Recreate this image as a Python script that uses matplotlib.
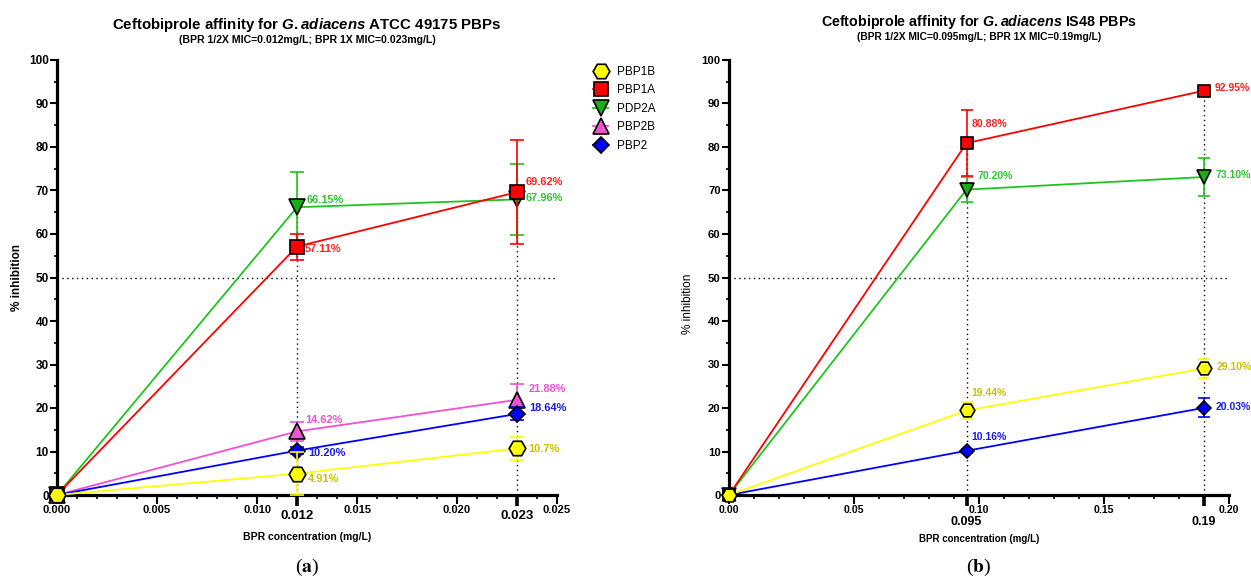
import numpy as np
import matplotlib.pyplot as plt
from matplotlib.ticker import MultipleLocator, FormatStrFormatter

plt.rcParams['font.family'] = ['Liberation Sans', 'DejaVu Sans']
plt.rcParams['mathtext.fontset'] = 'custom'
plt.rcParams['mathtext.rm'] = 'Liberation Sans:bold'
plt.rcParams['mathtext.bf'] = 'Liberation Sans:bold'
plt.rcParams['mathtext.it'] = 'Liberation Sans:bold:italic'

# ---- data ----
names = ["PBP1B", "PBP1A", "PDP2A", "PBP2B", "PBP2"]

conc_a = [0, 0.012, 0.023]
mic_a = [0.012, 0.023]
mic_a_lbl = ["0.012", "0.023"]
vals_a = {
    "PBP1B": [0, 4.91, 10.7],
    "PBP1A": [0, 57.11, 69.62],
    "PDP2A": [0, 66.15, 67.96],
    "PBP2B": [0, 14.62, 21.88],
    "PBP2": [0, 10.20, 18.64],
}
err_a = {
    "PBP1B": [0, 4.91, 2.7],
    "PBP1A": [0, 3.0, 12.0],
    "PDP2A": [0, 8.0, 8.2],
    "PBP2B": [0, 2.2, 3.6],
    "PBP2": [0, 0.8, 1.5],
}
txt_a = {
    "PBP1B": ["4.91%", "10.7%"],
    "PBP1A": ["57.11%", "69.62%"],
    "PDP2A": ["66.15%", "67.96%"],
    "PBP2B": ["14.62%", "21.88%"],
    "PBP2": ["10.20%", "18.64%"],
}

conc_b = [0, 0.095, 0.19]
mic_b = [0.095, 0.19]
mic_b_lbl = ["0.095", "0.19"]
vals_b = {
    "PBP1B": [0, 19.44, 29.10],
    "PBP1A": [0, 80.88, 92.95],
    "PDP2A": [0, 70.20, 73.10],
    "PBP2": [0, 10.16, 20.03],
}
err_b = {
    "PBP1B": [0, 2.0, 2.1],
    "PBP1A": [0, 7.6, 0.5],
    "PDP2A": [0, 2.8, 4.4],
    "PBP2": [0, 0.5, 2.2],
}
txt_b = {
    "PBP1B": ["19.44%", "29.10%"],
    "PBP1A": ["80.88%", "92.95%"],
    "PDP2A": ["70.20%", "73.10%"],
    "PBP2": ["10.16%", "20.03%"],
}

# ---- styles ----
style = {
    "PBP1B": dict(line="#ffff00", fill="#ffff00", text="#c8c400", marker="H", ms=12, z=8),
    "PBP1A": dict(line="#ff0000", fill="#ff0000", text="#ff2020", marker="s", ms=9.5, z=5),
    "PDP2A": dict(line="#1fc41f", fill="#16b016", text="#2dc62d", marker="v", ms=11, z=4),
    "PBP2B": dict(line="#f050d2", fill="#ee55cc", text="#f050d2", marker="^", ms=11, z=6),
    "PBP2": dict(line="#0000ff", fill="#0000ff", text="#1a1aee", marker="D", ms=8, z=7),
}
# label offsets in pixels (dx, dy) for the two non-zero points
off_a = {
    "PBP1B": [(11, -5), (11, -1)],
    "PBP1A": [(8, -2), (9, 10)],
    "PDP2A": [(10, 7), (9, 1)],
    "PBP2B": [(8, 11), (12, 11)],
    "PBP2": [(11, -2), (12, 6)],
}
off_b = {
    "PBP1B": [(5, 17), (13, 1)],
    "PBP1A": [(5, 19), (11, 3)],
    "PDP2A": [(11, 14), (12, 2)],
    "PBP2": [(5, 14), (12, 1)],
}

W, H = 1251, 581
fig = plt.figure(figsize=(W / 100, H / 100), dpi=100)
axA = fig.add_axes([57 / W, 86 / H, 500 / W, 435 / H])
axB = fig.add_axes([729 / W, 86 / H, 500 / W, 435 / H])


def panel(ax, conc, vals, errs, txts, offs, mic, mic_lbl, xmax, xmaj, xmin, fmt, sc, msc, mic_pad):
    ax.set_xlim(0, xmax)
    ax.set_ylim(0, 100)
    for s in ["top", "right"]:
        ax.spines[s].set_visible(False)
    for s in ["left", "bottom"]:
        ax.spines[s].set_linewidth(2.3)
    ax.xaxis.set_major_locator(MultipleLocator(xmaj))
    ax.xaxis.set_minor_locator(MultipleLocator(xmin))
    ax.xaxis.set_major_formatter(FormatStrFormatter(fmt))
    ax.yaxis.set_major_locator(MultipleLocator(10))
    ax.yaxis.set_minor_locator(MultipleLocator(5))
    ax.tick_params(axis="x", which="major", length=6.5, width=1.5, pad=1, labelsize=8 * sc)
    ax.tick_params(axis="x", which="minor", length=3.2, width=1.2)
    ax.tick_params(axis="y", which="major", length=5, width=1.5, pad=1, labelsize=8.5 * sc)
    ax.tick_params(axis="y", which="minor", length=2.5, width=1.2)
    for lb in ax.get_xticklabels() + ax.get_yticklabels():
        lb.set_fontweight("bold")

    # reference lines
    ax.axhline(50, color="black", lw=1, ls=(0, (1, 2.5)), zorder=1)
    tops = [max(v[conc.index(m)] for v in vals.values()) for m in mic]
    ax.vlines(mic, 0, tops, color="black", lw=1, ls=(0, (1, 2.5)), zorder=1)

    handles = []
    for n in names:
        if n not in vals:
            continue
        st = style[n]
        ax.errorbar(conc, vals[n], yerr=errs[n], fmt="none", ecolor=st["line"],
                    elinewidth=1.2, capsize=5 * msc, capthick=1.2, zorder=st["z"], clip_on=False)
        h, = ax.plot(conc, vals[n], color=st["line"], lw=1.3, marker=st["marker"],
                     ms=st["ms"] * msc, mfc=st["fill"], mec="black", mew=1.2,
                     zorder=st["z"] + 0.5, clip_on=False, label=n)
        handles.append(h)
        for i in range(2):
            ax.annotate(txts[n][i], (conc[i + 1], vals[n][i + 1]), xytext=offs[n][i],
                        textcoords="offset pixels", ha="left", va="center",
                        color=st["text"], fontsize=7.9 * sc, fontweight="bold", zorder=10,
                        annotation_clip=False)

    sec = ax.secondary_xaxis("bottom")
    sec.set_xticks(mic, labels=mic_lbl)
    sec.tick_params(length=8, width=2.6, pad=mic_pad, labelsize=9.5 * sc)
    sec.spines["bottom"].set_visible(False)
    for lb in sec.get_xticklabels():
        lb.set_fontweight("bold")
    return handles


hA = panel(axA, conc_a, vals_a, err_a, txt_a, off_a, mic_a, mic_a_lbl,
           0.025, 0.005, 0.001, "%.3f", 1.0, 1.0, 3)
hB = panel(axB, conc_b, vals_b, err_b, txt_b, off_b, mic_b, mic_b_lbl,
           0.20, 0.05, 0.01, "%.2f", 0.95, 0.88, 7)

axA.set_xlabel("BPR concentration (mg/L)", fontsize=7.5, fontweight="bold")
axA.xaxis.set_label_coords(0.5, -0.085)
axA.set_ylabel("% inhibition", fontsize=8.5, fontweight="bold")
axA.yaxis.set_label_coords(-0.068, 0.5)
axB.set_xlabel("BPR concentration (mg/L)", fontsize=7, fontweight="bold")
axB.xaxis.set_label_coords(0.5, -0.09)
axB.set_ylabel("% inhibition", fontsize=8.5)
axB.yaxis.set_label_coords(-0.07, 0.44)

fig.text(307 / W, 1 - 25 / H, "Ceftobiprole affinity for $\\mathit{G.adiacens}$ ATCC 49175 PBPs",
         ha="center", va="center", fontsize=10.8, fontweight="bold")
fig.text(307 / W, 1 - 40 / H, "(BPR 1/2X MIC=0.012mg/L; BPR 1X MIC=0.023mg/L)",
         ha="center", va="center", fontsize=7.6, fontweight="bold")
fig.text(979 / W, 1 - 22 / H, "Ceftobiprole affinity for $\\mathit{G.adiacens}$ IS48 PBPs",
         ha="center", va="center", fontsize=10.3, fontweight="bold")
fig.text(979 / W, 1 - 37 / H, "(BPR 1/2X MIC=0.095mg/L; BPR 1X MIC=0.19mg/L)",
         ha="center", va="center", fontsize=7.4, fontweight="bold")

axA.legend(handles=hA, loc="upper left", bbox_to_anchor=(587 / W, 1 - 60 / H),
           bbox_transform=fig.transFigure, frameon=False, fontsize=8.5,
           handlelength=1.3, handletextpad=0.75, labelspacing=0.55, borderpad=0)

fig.text(307 / W, 1 - 567 / H, "($\\mathbf{a}$)", ha="center", va="center",
         fontsize=14, family="Liberation Serif", math_fontfamily="stix")
fig.text(979 / W, 1 - 567 / H, "($\\mathbf{b}$)", ha="center", va="center",
         fontsize=14, family="Liberation Serif", math_fontfamily="stix")

fig.savefig("out.png", dpi=100)
